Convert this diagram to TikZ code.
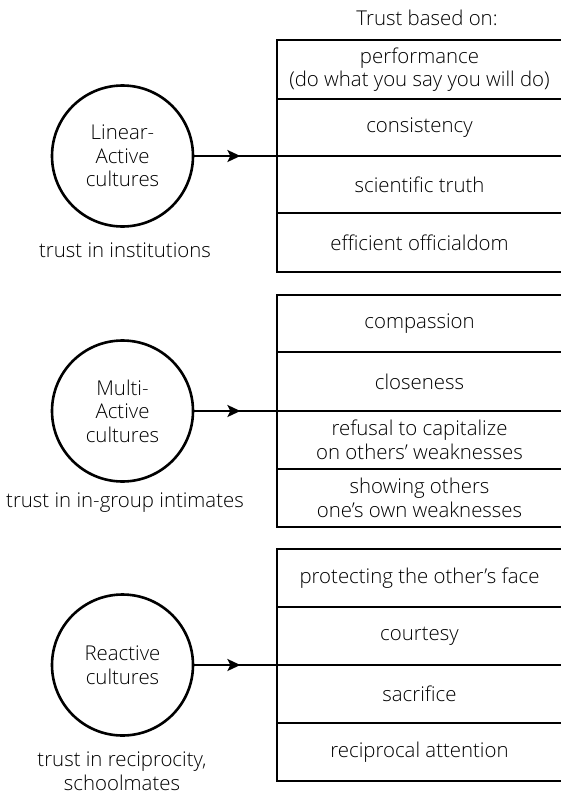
\documentclass[tikz,border=0pt]{standalone}
\usepackage{fontspec}
\setmainfont{Open Sans Light}
\usetikzlibrary{arrows.meta,decorations.markings}
\begin{document}
\begin{tikzpicture}[x=1pt,y=-1pt,
  every node/.style={font=\fontsize{20.4}{23.5}\selectfont, inner sep=0pt},
  cult/.style={circle,draw,line width=2.6pt,minimum size=141pt,align=center},
  row/.style={draw,line width=2.6pt,outer sep=0pt,minimum width=295pt,anchor=north west,align=center},
  conn/.style={line width=2.2pt, postaction={decorate},
    decoration={markings, mark=at position 0.557 with {\arrow{Stealth[length=13pt,width=12pt,inset=3pt]}}}},
  lbl/.style={align=center}]
\useasboundingbox (0,0) rectangle (560,795);
\fill[white] (0,0) rectangle (560,795);

% heading
\node (hd) at (427,18) {Trust based on:};

% group 1
\node[cult] (c1) at (122.5,156) {Linear-\\Active\\cultures};
\node[lbl] (t1) at (125,250) {trust in institutions};
\node[row,minimum height=59pt] (a1) at (277,40) {\hspace*{-10pt}performance\\\hspace*{-10pt}(do what you say you will do)};
\node[row,minimum height=57pt] (a2) at (277,99) {\hspace*{-10pt}consistency};
\node[row,minimum height=57pt] (a3) at (277,156) {\hspace*{-10pt}scientific truth};
\node[row,minimum height=59pt] (a4) at (277,213) {\hspace*{-10pt}efficient officialdom};
\draw[conn] (c1.east) -- (a2.south west);

% group 2
\node[cult] (c2) at (122.5,411) {Multi-\\Active\\cultures};
\node[lbl] (t2) at (125,503) {trust in in-group intimates};
\node[row,minimum height=57pt] (b1) at (277,295) {\hspace*{-10pt}compassion};
\node[row,minimum height=59pt] (b2) at (277,352) {\hspace*{-10pt}closeness};
\node[row,minimum height=58pt] (b3) at (277,411) {\hspace*{-10pt}refusal to capitalize\\\hspace*{-10pt}on others’ weaknesses};
\node[row,minimum height=58pt] (b4) at (277,469) {\hspace*{-10pt}showing others\\\hspace*{-10pt}one’s own weaknesses};
\draw[conn] (c2.east) -- (b2.south west);

% group 3
\node[cult] (c3) at (122.5,665) {Reactive\\cultures};
\node[lbl] (t3) at (122,771) {trust in reciprocity,\\schoolmates};
\node[row,minimum height=58pt] (r1) at (277,549) {\hspace*{-10pt}protecting the other’s face};
\node[row,minimum height=58pt] (r2) at (277,607) {\hspace*{-10pt}courtesy};
\node[row,minimum height=58pt] (r3) at (277,665) {\hspace*{-10pt}sacrifice};
\node[row,minimum height=58pt] (r4) at (277,723) {\hspace*{-10pt}reciprocal attention};
\draw[conn] (c3.east) -- (r2.south west);
\end{tikzpicture}
\end{document}
